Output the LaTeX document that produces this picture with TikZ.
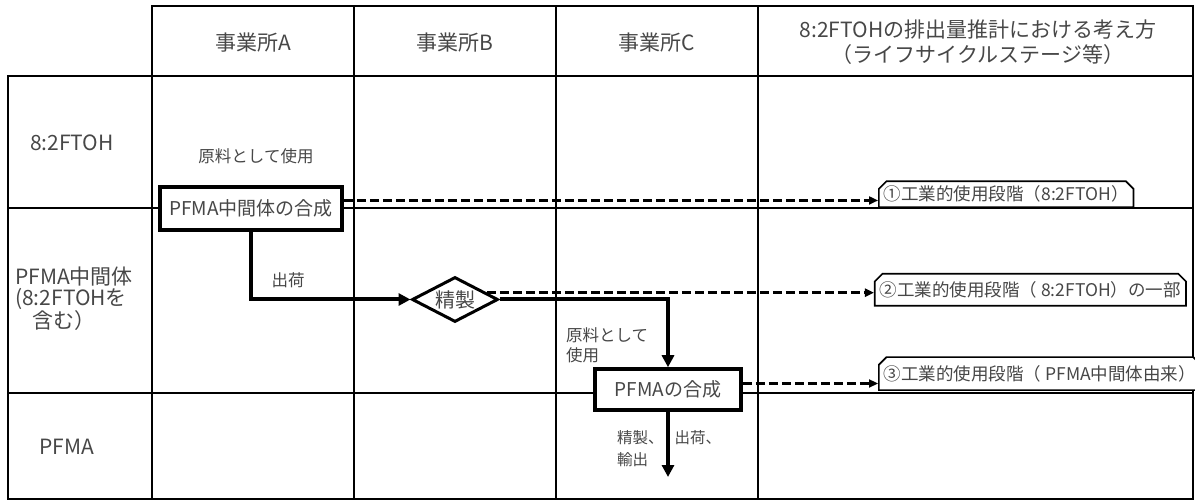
\documentclass[tikz,border=0pt]{standalone}
\usepackage{fontspec}
\setmainfont{Noto Sans CJK JP}
\usetikzlibrary{arrows.meta,shapes.geometric,shapes.misc}
\definecolor{txt}{HTML}{474747}
\begin{document}
\begin{tikzpicture}[x=1bp,y=-1bp,
  every node/.style={text=txt, inner sep=0pt},
  big/.style={font=\fontsize{21bp}{25bp}\selectfont},
  lefttxt/.style={font=\fontsize{21bp}{21bp}\selectfont},
  mid/.style={font=\fontsize{19bp}{22bp}\selectfont},
  sm/.style={font=\fontsize{16.5bp}{20bp}\selectfont},
  sm2/.style={font=\fontsize{15.5bp}{22bp}\selectfont},
  lab/.style={font=\fontsize{17.5bp}{21bp}\selectfont},
  gridline/.style={line width=2.5bp},
  rowline/.style={line width=2bp},
  proc/.style={mid, draw=black, line width=3.5bp, fill=white, inner sep=2bp},
  decision/.style={diamond, draw=black, line width=3bp, fill=white, aspect=1.91,
     minimum width=86bp, minimum height=45bp, font=\fontsize{20bp}{22bp}\selectfont},
  stage/.style={lab, chamfered rectangle, chamfered rectangle corners={north west,north east},
     chamfered rectangle xsep=4bp, draw=black, line width=1.7bp, fill=white, inner sep=1bp},
  flow/.style={draw=black, line width=4bp, -{Triangle[length=12bp,width=12bp]}},
  emis/.style={draw=black, line width=3bp, dash pattern=on 9bp off 4bp, -{Triangle[length=9bp,width=8bp]}}
]
\useasboundingbox (0,0) rectangle (1195,502);
% grid
\draw[gridline] (152,6) rectangle (1193,76);
\draw[gridline] (8,76) rectangle (1193,499);
\foreach \x in {152,354,556,758} \draw[gridline] (\x,6) -- (\x,499);
\draw[rowline] (8,208) -- (1193,208);
\draw[rowline] (8,393) -- (1193,393);
% headers
\node[big] (hA) at (253,43) {事業所A};
\node[big] (hB) at (455,43) {事業所B};
\node[big] (hC) at (657,43) {事業所C};
\node[big, align=center] (hD) at (978,42) {8:2FTOHの排出量推計における考え方\\（ライフサイクルステージ等）};
% row labels
\node[lefttxt] (r1) at (72,143) {8:2FTOH};
\node[lefttxt, align=left, anchor=west] (r2) at (15,299) {PFMA中間体\\(8:2FTOHを\\\hspace{17bp}含む）};
\node[lefttxt] (r3) at (67,447) {PFMA};
% process nodes
\node[sm] (use1) at (256,156) {原料として使用};
\node[proc, minimum width=182bp, minimum height=43bp] (synA) at (251,208.5) {PFMA中間体の合成};
\node[decision] (refine) at (455,299.5) {精製};
\node[proc, minimum width=146bp, minimum height=41bp] (synC) at (668,389.5) {PFMAの合成};
\node[sm] (ship) at (288,280) {出荷};
\node[sm, align=left, anchor=west] (use2) at (566,345) {原料として\\使用};
\node[sm2, align=left, anchor=west] (out) at (617,449) {精製、\hspace{11bp}出荷、\\輸出};
\coordinate (endC) at (668,477);
% stage labels
\node[stage, anchor=south west, minimum width=252bp, minimum height=25bp] (st1) at (878,208) {①工業的使用段階（8:2FTOH）};
\node[stage, anchor=north west, minimum width=308bp, minimum height=32bp] (st2) at (878,277) {②工業的使用段階（ 8:2FTOH）の一部};
\node[stage, anchor=south west, minimum width=308bp, minimum height=33bp] (st3) at (878,391) {③工業的使用段階（ PFMA中間体由来）};
% connectors
\draw[flow] (synA.south) |- (refine.west);
\draw[flow] (refine.east) -| (synC.north);
\draw[flow] (synC.south) -- (endC);
\draw[emis] ([yshift=8bp]synA.east) coordinate (e1) -- (e1 -| st1.west);
\draw[emis] (refine.12) coordinate (e2) -- (e2 -| st2.west);
\draw[emis] ([yshift=6bp]synC.east) coordinate (e3) -- (e3 -| st3.west);
\end{tikzpicture}
\end{document}
